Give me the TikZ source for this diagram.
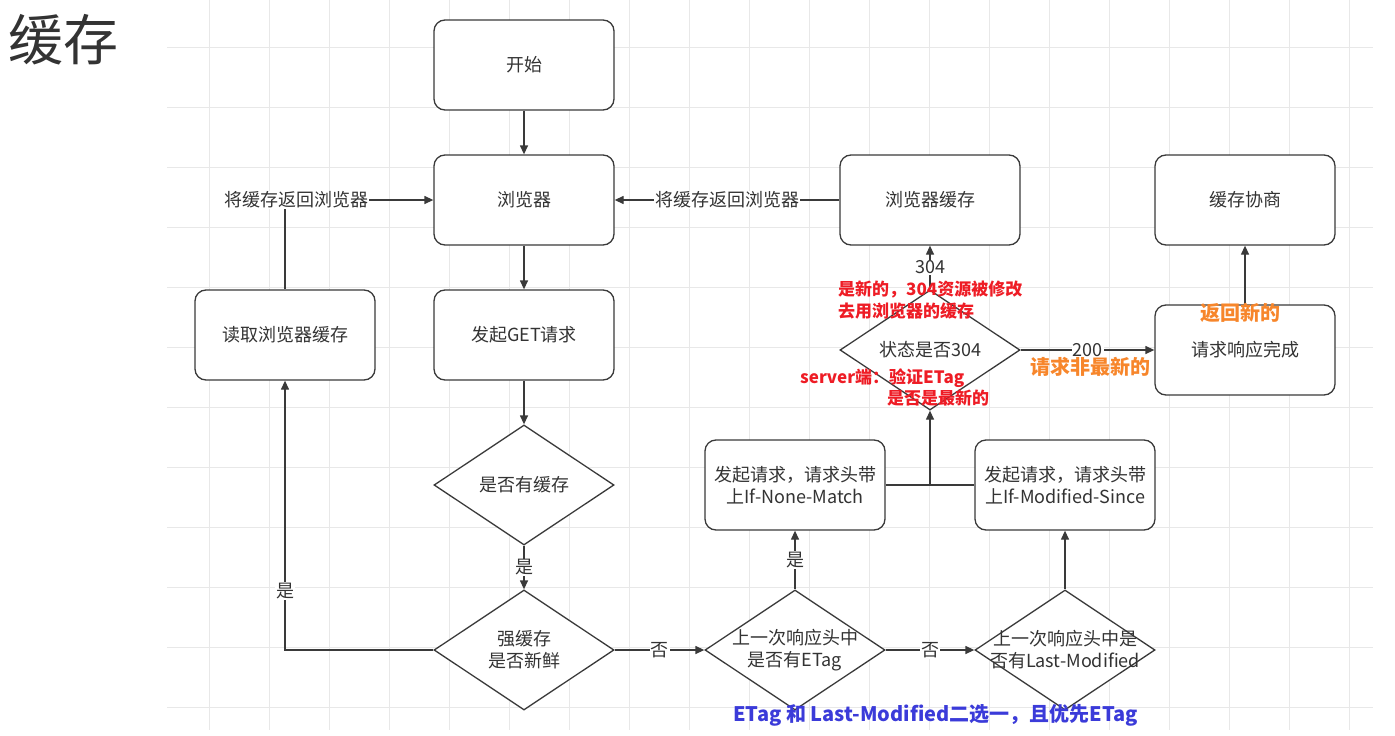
\documentclass[tikz,border=0pt]{standalone}
\usepackage{fontspec}
\setmainfont{Noto Sans CJK SC}
\usetikzlibrary{arrows.meta,shapes.geometric,positioning}
\definecolor{linegray}{HTML}{3A3A3A}
\definecolor{textgray}{HTML}{333333}
\definecolor{gridgray}{HTML}{E8E8E8}
\definecolor{notered}{HTML}{EE1C25}
\definecolor{noteorange}{HTML}{F7862B}
\definecolor{noteblue}{HTML}{3B3BD9}
\newcommand{\dline}[1]{\makebox[0pt]{#1}}
\tikzset{
    flowbox/.style={
    rectangle,rounded corners=11pt,draw=linegray,line width=1.3pt,fill=white,
    minimum width=180pt,minimum height=90pt,text=textgray,align=center,
    font=\fontsize{18}{22}\selectfont
    },
    decide/.style={
    diamond,draw=linegray,line width=1.3pt,fill=white,inner sep=0pt,
    minimum width=180pt,minimum height=120pt,text=textgray,align=center,
    font=\fontsize{18}{22}\selectfont
    },
    lbl/.style={
    fill=white,text=textgray,inner sep=1pt,font=\fontsize{18}{22}\selectfont
    },
    note/.style={
    inner sep=0pt,anchor=west,font=\bfseries\fontsize{17}{21}\selectfont
    },
    bignote/.style={
    note,font=\bfseries\fontsize{20}{24}\selectfont
    },
    flow/.style={
    color=linegray,line width=1.3pt,-{Triangle[length=9pt,width=8pt]}
    },
    gridline/.style={
    draw=gridgray,line width=0.8pt
    },
}
\begin{document}
\begin{tikzpicture}[x=1pt,y=-1pt]
   \useasboundingbox (0,0) rectangle (1395,736);
   % canvas grid
   \foreach \gx in {209,269,...,1349}
     \draw[gridline] (\gx,0) -- (\gx,730);
   \foreach \gy in {47,107,...,707}
     \draw[gridline] (167,\gy) -- (1373,\gy);

   \node[anchor=west,inner sep=0pt,text=textgray,font=\fontsize{55}{62}\selectfont] (title) at (8,40) {缓存};

   \node[flowbox] (start) at (524,65) {开始};
   \node[flowbox] (browser) at (524,200) {浏览器};
   \node[flowbox] (get) at (524,335) {发起GET请求};
   \node[decide] (hascache) at (524,485) {\dline{是否有缓存}};
   \node[decide] (fresh) at (524,650) {\dline{强缓存}\\\dline{是否新鲜}};
   \node[flowbox] (readcache) at (285,335) {读取浏览器缓存};
   \node[flowbox] (bcache) at (930,200) {浏览器缓存};
   \node[flowbox] (nego) at (1245,200) {缓存协商};
   \node[decide] (is304) at (930,350) {\dline{状态是否304}};
   \node[flowbox] (done) at (1245,350) {请求响应完成};
   \node[flowbox] (reqetag) at (795,485) {发起请求，请求头带\\上If-None-Match};
   \node[flowbox] (reqlm) at (1065,485) {发起请求，请求头带\\上If-Modified-Since};
   \node[decide] (hasetag) at (795,650) {\dline{上一次响应头中}\\\dline{是否有ETag}};
   \node[decide] (haslm) at (1065,650) {\dline{上一次响应头中是}\\\dline{否有Last-Modified}};
   \coordinate (join) at (930,485);

  \path[flow]
    (start) edge (browser)
    (browser) edge (get)
    (get) edge (hascache)
    (hascache) edge node[lbl] {是} (fresh)
    (bcache) edge node[lbl] {将缓存返回浏览器} (browser)
    (fresh) edge node[lbl] {否} (hasetag)
    (hasetag) edge node[lbl] {否} (haslm)
              edge node[lbl] {是} (reqetag)
    (haslm) edge (reqlm)
    (join) edge (is304)
    (is304) edge node[lbl] {304} (bcache)
            edge node[lbl,pos=0.5] {200} (done)
    (done) edge (nego);
  \draw[flow] (fresh.west) -| node[lbl,pos=0.61] {是} (readcache.south);
  \draw[flow] (readcache.north) |- node[lbl,pos=0.5,xshift=11pt] {将缓存返回浏览器} (browser.west);
  \draw[draw=linegray,line width=1.3pt] (reqetag.east) -- (join) -- (reqlm.west);

   % notes
   \node[note,text=notered] (n304a) at (838,289) {是新的，304资源被修改};
   \node[note,text=notered] (n304b) at (838,311) {去用浏览器的缓存};
   \node[note,text=notered] (nsrva) at (800,378) {server端：验证ETag};
   \node[note,text=notered] (nsrvb) at (887,398) {是否是最新的};
   \node[bignote,text=noteorange] (nold) at (1030,367) {请求非最新的};
   \node[bignote,text=noteorange] (nnew) at (1200,313) {返回新的};
   \node[bignote,text=noteblue] (nboth) at (733,715) {ETag 和 Last-Modified二选一，且优先ETag};
\end{tikzpicture}
\end{document}
